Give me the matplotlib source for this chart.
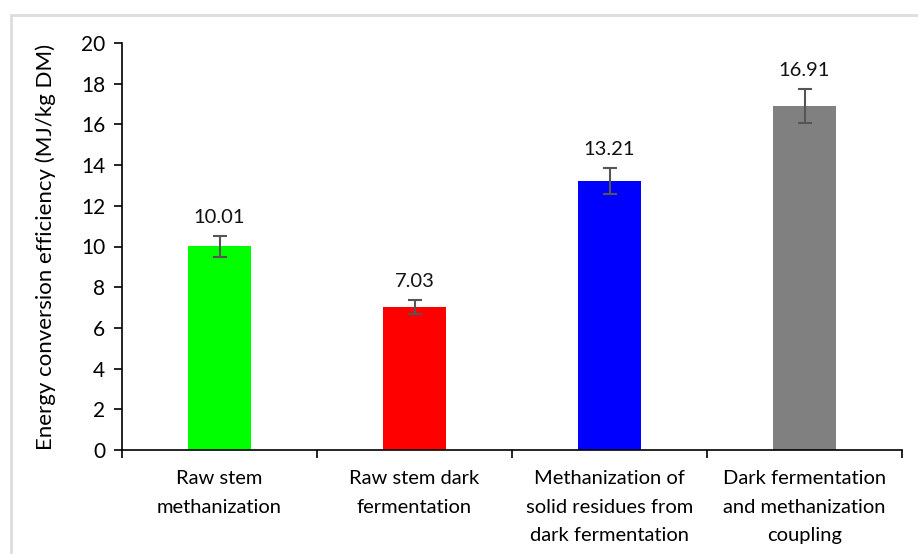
import matplotlib.pyplot as plt
from matplotlib.lines import Line2D

categories = [
    "Raw stem\nmethanization",
    "Raw stem dark\nfermentation",
    "Methanization of\nsolid residues from\ndark fermentation",
    "Dark fermentation\nand methanization\ncoupling",
]
values = [10.01, 7.03, 13.21, 16.91]
errors = [0.52, 0.36, 0.64, 0.83]
colors = ["#00FF00", "#FF0000", "#0000FF", "#808080"]

plt.rcParams["font.family"] = ["Lato", "DejaVu Sans"]

fig = plt.figure(figsize=(9.18, 5.54), dpi=100)
ax = fig.add_axes([122 / 918, 1 - 450 / 554, 780 / 918, 407 / 554])

# light frame around the chart area
W, H = 918, 554
fig.add_artist(Line2D([11 / W, 11 / W], [0, 1 - 15 / H], color="#DDDDDD",
                      lw=2, transform=fig.transFigure))
fig.add_artist(Line2D([11 / W, 1], [1 - 15 / H, 1 - 15 / H], color="#DDDDDD",
                      lw=2, transform=fig.transFigure))

x = range(len(values))
ax.bar(x, values, width=0.32, color=colors, yerr=errors,
       error_kw=dict(ecolor="#555555", elinewidth=1.5, capsize=5, capthick=1.5),
       zorder=2)
for xi, v, e in zip(x, values, errors):
    ax.annotate(f"{v:.2f}", (xi, v + e), xytext=(0, 7), textcoords="offset points",
                ha="center", va="bottom", fontsize=14.5, color="#111111")

ax.set_xlim(-0.5, len(values) - 0.5)
ax.set_ylim(0, 20)
ax.set_yticks(range(0, 21, 2))
ax.set_ylabel("Energy conversion efficiency (MJ/kg DM)", fontsize=16, labelpad=18)

ax.set_xticks([i - 0.5 for i in range(len(values) + 1)])
ax.set_xticklabels([])
ax.set_xticks(list(x), minor=True)
ax.set_xticklabels(categories, minor=True, fontsize=14.5, linespacing=1.82)
ax.tick_params(axis="x", which="minor", length=0, pad=14.5)
ax.tick_params(axis="x", which="major", direction="out", length=6, width=1.2)
ax.tick_params(axis="y", direction="out", length=6, width=1.2, labelsize=15, pad=6)

for s in ["top", "right"]:
    ax.spines[s].set_visible(False)
for s in ["left", "bottom"]:
    ax.spines[s].set_linewidth(1.2)

fig.savefig("out.png", dpi=100)
